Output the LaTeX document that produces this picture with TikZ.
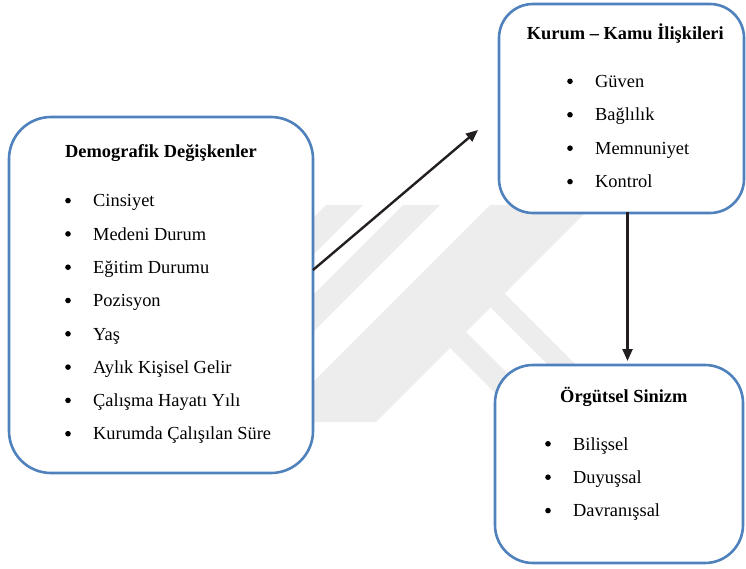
\documentclass[tikz,border=0pt]{standalone}
\usepackage{fontspec}
\setmainfont{Liberation Serif}
\usetikzlibrary{arrows.meta}
\definecolor{boxblue}{HTML}{4F81BD}
\definecolor{arrowgray}{HTML}{231F20}
\definecolor{wm}{HTML}{EDEDED}
\begin{document}
\begin{tikzpicture}[x=1pt,y=-1pt,
  panel/.style={draw=boxblue,line width=2.6pt,fill=white,rectangle,inner sep=0pt},
  title/.style={anchor=base west,inner sep=0pt,font=\fontsize{18.4}{22}\selectfont\bfseries},
  item/.style={anchor=base west,inner sep=0pt,font=\fontsize{18.4}{22}\selectfont},
  dot/.style={circle,fill=black,inner sep=0pt,minimum size=5.6pt},
  conn/.style={draw=arrowgray,line width=2.4pt,-{Triangle[length=12pt,width=10pt]}},
  wmark/.style={fill=wm,draw=none}]
\useasboundingbox (0,0) rectangle (746,569);
% faint watermark
\fill[wmark] (326,205) -- (363,205) -- (146,422) -- (109,422) -- cycle;
\fill[wmark] (403,205) -- (440,205) -- (223,422) -- (186,422) -- cycle;
\fill[wmark] (490,205) -- (593,205) -- (376,422) -- (273,422) -- cycle;
\fill[wmark] (486.5,303.5) -- (500.5,289.5) -- (633,422) -- (605,422) -- cycle;
\fill[wmark] (446,344) -- (462,328) -- (556,422) -- (524,422) -- cycle;
% boxes
\node[panel,rounded corners=42pt,minimum width=304pt,minimum height=356pt] (demo) at (161,295) {};
\node[panel,rounded corners=34pt,minimum width=245pt,minimum height=209pt] (kurum) at (621.5,108.5) {};
\node[panel,rounded corners=38pt,minimum width=248pt,minimum height=198pt] (orgut) at (619,464) {};
% Demografik
\node[title] (t1) at (65,157.3) {Demografik Değişkenler};
\foreach \i/\txt in {0/Cinsiyet,1/Medeni Durum,2/Eğitim Durumu,3/Pozisyon,4/Yaş,5/Aylık Kişisel Gelir,6/Çalışma Hayatı Yılı,7/Kurumda Çalışılan Süre}{
  \node[item] (d\i) at (93,{206.8+33.3*\i}) {\txt};
  \node[dot] (db\i) at (68,{200.6+33.3*\i}) {};
}
% Kurum
\node[title] (t2) at (526.7,39.3) {Kurum – Kamu İlişkileri};
\foreach \i/\txt in {0/Güven,1/Bağlılık,2/Memnuniyet,3/Kontrol}{
  \node[item] (k\i) at (595,{87.5+33.45*\i}) {\txt};
  \node[dot] (kb\i) at (570,{81.3+33.45*\i}) {};
}
% Orgutsel
\node[title] (t3) at (560,402.3) {Örgütsel Sinizm};
\foreach \i/\txt in {0/Bilişsel,1/Duyuşsal,2/Davranışsal}{
  \node[item] (o\i) at (573,{450+33.4*\i}) {\txt};
  \node[dot] (ob\i) at (548,{443.8+33.4*\i}) {};
}
% connectors
\coordinate (a1s) at (313,270);
\coordinate (a1e) at (478,130);
\draw[conn] (a1s) -- (a1e);
\coordinate (a2s) at (627.5,212);
\coordinate (a2e) at (627.5,361);
\draw[conn] (a2s) -- (a2e);
\end{tikzpicture}
\end{document}
